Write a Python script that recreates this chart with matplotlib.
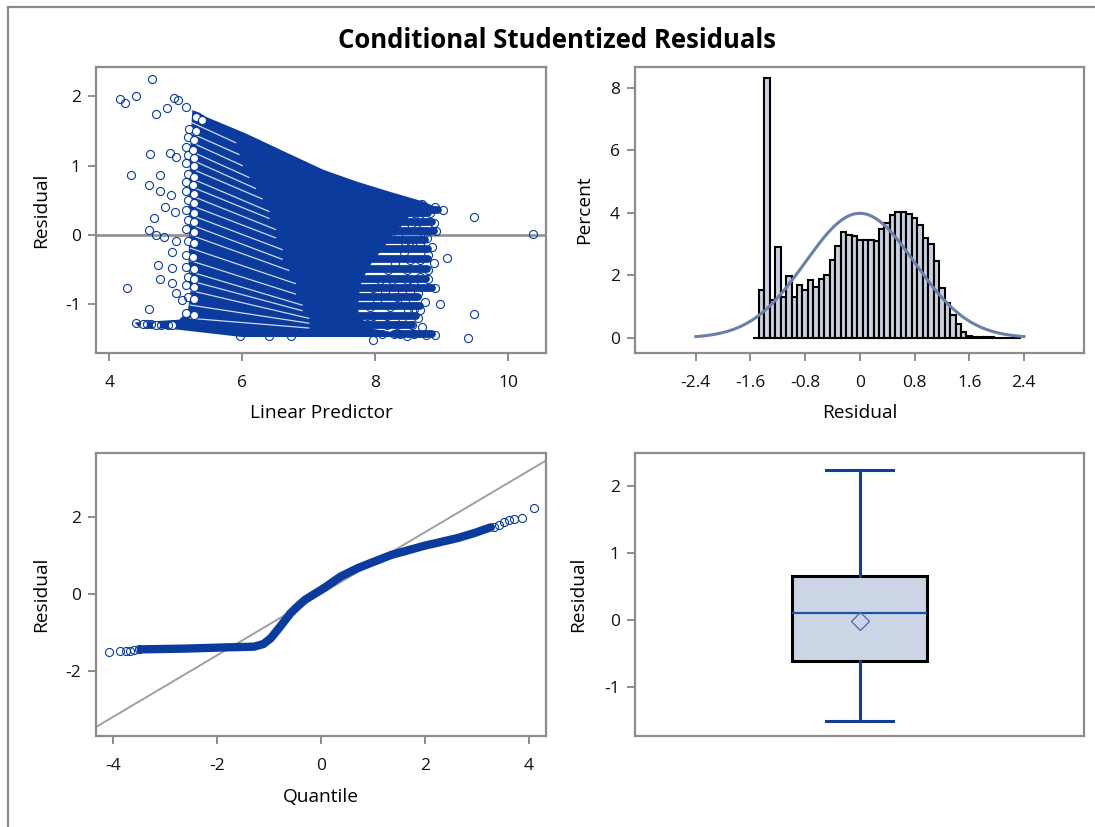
import matplotlib
matplotlib.use("Agg")
import matplotlib.pyplot as plt
import numpy as np
from matplotlib.lines import Line2D

plt.rcParams['font.family'] = ['Open Sans', 'DejaVu Sans']
plt.rcParams['axes.unicode_minus'] = False

NAVY = '#0B3B9C'
GRID = '#8C8C8C'

# ---- top left: residual vs linear predictor ----
# outline of the solid mass of overlapping markers
cloud_x = [5.25, 5.36, 5.46, 6.06, 6.66, 7.22, 7.72, 8.23, 8.73, 8.92,
           8.55, 8.35, 8.15, 7.95, 7.80, 7.75, 7.75, 7.95, 8.40, 8.45,
           6.00, 5.00, 4.45, 4.38, 5.05, 5.18, 5.22, 5.19, 5.20, 5.19, 5.21, 5.23, 5.25]
cloud_y = [1.80, 1.76, 1.70, 1.46, 1.19, 0.94, 0.77, 0.62, 0.48, 0.40,
           0.30, 0.10, -0.15, -0.40, -0.65, -0.90, -1.15, -1.35, -1.42, -1.47,
           -1.47, -1.36, -1.33, -1.26, -1.22, -1.10, -0.85, -0.50, 0.00, 0.50, 1.00, 1.50, 1.80]

# thin white streaks between the bands on the left side of the cloud
gap_x0 = [5.24, 5.22, 5.22, 5.22, 5.22, 5.22, 5.22, 5.22, 5.22, 5.22,
          5.22, 5.22, 5.22, 5.22, 5.22, 5.22, 5.22, 5.22, 5.22, 5.22]
gap_y0 = [1.62, 1.47, 1.34, 1.21, 1.09, 0.96, 0.82, 0.70, 0.57, 0.43,
          0.29, 0.15, 0.00, -0.19, -0.37, -0.53, -0.66, -0.80, -1.01, -1.20]
gap_x1 = [5.90, 5.95, 6.00, 6.10, 6.20, 6.30, 6.40, 6.40, 6.50, 6.50,
          6.60, 6.60, 6.70, 6.80, 6.80, 6.90, 6.90, 7.00, 7.00, 7.00]
gap_y1 = [1.33, 1.16, 1.00, 0.83, 0.67, 0.52, 0.34, 0.24, 0.08, -0.04,
          -0.21, -0.35, -0.51, -0.70, -0.85, -1.01, -1.09, -1.20, -1.27, -1.34]

# rows of overlapping circles on the right fringe of the cloud
row_y = [0.36, 0.31, 0.18, 0.06, -0.07, -0.20, -0.34, -0.49, -0.63, -0.76,
         -0.89, -1.03, -1.16, -1.29, -1.43]
row_x0 = [8.50, 8.40, 8.30, 8.20, 8.10, 8.00, 7.90, 7.80, 7.75, 7.70,
          7.70, 7.70, 7.75, 7.85, 8.30]
row_x1 = [8.95, 8.80, 8.85, 8.88, 8.75, 8.80, 8.80, 8.78, 8.76, 8.85,
          8.65, 8.68, 8.62, 8.55, 8.85]

# open circles at the band heads (left ends of the streaks)
head_x = [5.30, 5.20, 5.18, 5.16, 5.18, 5.16, 5.18, 5.16, 5.16, 5.18, 5.16,
          5.18, 5.16, 5.18, 5.16, 5.16, 5.18, 5.16, 5.18, 5.16,
          5.40, 5.30, 5.28, 5.26, 5.28, 5.27, 5.28, 5.26, 5.27, 5.28, 5.27,
          5.28, 5.27, 5.28, 5.26, 5.27, 5.28, 5.27, 5.28, 5.27, 4.50, 4.70, 4.95]
head_y = [1.70, 1.53, 1.41, 1.27, 1.15, 1.03, 0.88, 0.76, 0.63, 0.50, 0.36,
          0.22, 0.09, -0.08, -0.29, -0.46, -0.60, -0.72, -0.89, -1.13,
          1.66, 1.50, 1.37, 1.23, 1.11, 0.99, 0.84, 0.72, 0.59, 0.46, 0.32,
          0.18, 0.05, -0.11, -0.32, -0.49, -0.63, -0.75, -0.92, -1.15, -1.28, -1.29, -1.30]

# individual circles around the edges of the cloud
pts_x = [4.65, 4.155, 4.24, 4.40, 4.71, 4.87, 4.98, 5.03, 5.15, 4.61, 4.92, 5.01,
         4.33, 4.76, 4.60, 4.76, 4.93, 4.84, 4.99, 4.67, 4.60, 4.70, 4.83, 5.01,
         4.95, 4.73, 4.95, 4.76, 4.95, 4.27, 5.01, 4.60, 4.40, 4.56, 4.63, 4.78,
         4.88, 5.10, 5.96, 6.41, 6.74,
         9.02, 8.90, 8.83, 8.88, 8.92, 8.78, 8.85, 8.68, 8.80, 8.89, 8.68, 8.80,
         8.68, 8.80, 8.90, 8.58, 8.65, 8.75, 8.98, 8.58, 8.68, 8.65, 8.40, 8.38,
         8.58, 8.77, 8.90, 9.08, 8.48, 8.48, 8.53, 8.43, 8.53, 8.43, 8.63, 8.68,
         8.58, 8.78, 8.73, 8.25, 8.33, 8.23, 8.18, 8.33, 8.18, 8.07, 7.97, 8.03,
         7.92, 7.97, 7.87, 8.28, 8.70, 8.62, 8.50, 8.45, 8.35, 8.30, 8.20, 8.15,
         8.45, 8.50, 8.40, 8.55, 8.70, 8.10, 8.48,
         9.48, 10.37, 9.49, 9.39, 7.97]
pts_y = [2.24, 1.96, 1.90, 2.00, 1.75, 1.83, 1.98, 1.94, 1.85, 1.16, 1.18, 1.13,
         0.86, 0.86, 0.72, 0.64, 0.57, 0.40, 0.33, 0.25, 0.07, 0.00, -0.03, -0.08,
         -0.25, -0.43, -0.48, -0.63, -0.69, -0.77, -0.84, -1.06, -1.27, -1.28, -1.28, -1.29,
         -1.30, -0.94, -1.46, -1.46, -1.46,
         0.355, 0.40, 0.31, 0.17, 0.06, -0.05, -0.17, -0.15, -0.29, -0.41, -0.36, -0.51,
         -0.60, -0.63, -0.76, -0.72, -0.84, -0.96, -0.99, -1.07, -1.08, -1.20, -1.20, -1.42,
         -1.43, -1.44, -1.44, -0.33, -0.65, -0.51, -0.36, -0.24, -0.08, 0.12, 0.09, 0.21,
         0.31, 0.38, 0.02, -0.65, -0.89, -1.04, -1.17, -1.30, -1.30, -0.65, -0.77, -0.94,
         -1.04, -1.16, -1.28, -1.42, 0.45, 0.40, 0.45, -0.10, 0.00, -0.40, -0.50, -0.80,
         -0.95, -1.10, -0.80, -1.30, -1.32, -1.42, -1.45,
         0.26, 0.01, -1.14, -1.48, -1.51]

# ---- top right: histogram of residuals ----
bin_width = 0.08
bin_left = -1.56
hist_pct = [0.0, 1.54, 8.31, 1.22, 2.92, 1.30, 1.98, 1.30, 1.70, 1.52, 1.85, 1.62,
            1.90, 2.02, 2.50, 2.95, 3.40, 3.28, 3.25, 3.15, 3.15, 3.15, 3.10, 3.50,
            3.68, 3.94, 4.03, 4.02, 3.96, 3.84, 3.60, 3.20, 3.00, 2.45, 1.60, 1.12,
            0.72, 0.44, 0.18, 0.06, 0.04, 0.03, 0.02, 0.02, 0.01, 0.01, 0.01, 0.0, 0.0]
resid_mean = 0.0
resid_sd = 0.8

# ---- bottom left: Q-Q plot ----
qq_x = [-3.46, -2.60, -1.86, -1.28, -1.10, -0.96, -0.78, -0.58, -0.45, -0.30,
        0.06, 0.38, 0.71, 1.03, 1.35, 1.99, 2.63, 2.95, 3.27]
qq_y = [-1.44, -1.42, -1.39, -1.37, -1.30, -1.15, -0.85, -0.50, -0.33, -0.15,
        0.15, 0.45, 0.67, 0.84, 1.01, 1.25, 1.45, 1.58, 1.73]
qq_tail_x = [-4.07, -3.85, -3.75, -3.67, -3.59, -3.49, 3.33, 3.43, 3.53, 3.62, 3.72, 3.86, 4.09]
qq_tail_y = [-1.51, -1.48, -1.48, -1.48, -1.46, -1.44, 1.73, 1.79, 1.88, 1.92, 1.95, 1.98, 2.22]

# ---- bottom right: box plot ----
box_stats = dict(med=0.10, q1=-0.61, q3=0.65, whislo=-1.51, whishi=2.25,
                 mean=-0.01, fliers=[])

W, H = 1095, 827
fig = plt.figure(figsize=(W / 100, H / 100), dpi=100)


def style(ax):
    for s in ax.spines.values():
        s.set_color(GRID)
        s.set_linewidth(1.6)
    ax.tick_params(direction='out', length=6, width=1.4, color=GRID,
                   labelsize=12.5, labelcolor='#111111')
    ax.tick_params(axis='x', pad=10)
    ax.tick_params(axis='y', pad=5)


def place(l, t, w, h):
    return fig.add_axes([l / W, 1 - (t + h) / H, w / W, h / H])


LAB = dict(fontsize=13.8)

# top left
ax1 = place(96, 67, 450, 286)
style(ax1)
ax1.axhline(0, color='#909090', lw=1.9, zorder=1)
for y, x0, x1 in zip(row_y, row_x0, row_x1):
    ax1.plot([x0, x1], [y, y], color=NAVY, lw=5.6, solid_capstyle='round', zorder=2)
ax1.fill(cloud_x, cloud_y, color=NAVY, lw=0, zorder=2)
for x0, y0, x1, y1 in zip(gap_x0, gap_y0, gap_x1, gap_y1):
    ax1.plot([x0, x1], [y0, y1], color='white', lw=0.9, alpha=0.8, zorder=2.5)
ax1.plot(head_x, head_y, 'o', mfc='white', mec=NAVY, ms=5.8, mew=0.8, zorder=3)
ax1.plot(pts_x, pts_y, 'o', mfc='none', mec=NAVY, ms=5.8, mew=0.8, zorder=3)
ax1.set_xlim(3.80, 10.57)
ax1.set_ylim(-1.70, 2.42)
ax1.set_xticks([4, 6, 8, 10])
ax1.set_yticks([-1, 0, 1, 2])
ax1.set_xlabel('Linear Predictor', labelpad=9, **LAB)
ax1.set_ylabel('Residual', labelpad=11, **LAB)

# top right
ax2 = place(635, 67, 449, 286)
style(ax2)
centers = bin_left + bin_width / 2 + bin_width * np.arange(len(hist_pct))
ax2.bar(centers, hist_pct, width=bin_width, color='#C8D0E0', edgecolor='black',
        linewidth=1.5, zorder=2)
xs = np.linspace(resid_mean - 3 * resid_sd, resid_mean + 3 * resid_sd, 300)
dens = 100 * bin_width * np.exp(-0.5 * ((xs - resid_mean) / resid_sd) ** 2) / (resid_sd * np.sqrt(2 * np.pi))
ax2.plot(xs, dens, color='#6A80A8', lw=2.2, zorder=3)
ax2.set_xlim(-3.29, 3.28)
ax2.set_ylim(-0.48, 8.67)
ticks = [-2.4, -1.6, -0.8, 0, 0.8, 1.6, 2.4]
ax2.set_xticks(ticks)
ax2.set_xticklabels(['-2.4', '-1.6', '-0.8', '0', '0.8', '1.6', '2.4'])
ax2.set_yticks([0, 2, 4, 6, 8])
ax2.set_xlabel('Residual', labelpad=9, **LAB)
ax2.set_ylabel('Percent', labelpad=12, **LAB)

# bottom left
ax3 = place(96, 453, 450, 283)
style(ax3)
ax3.axline((resid_mean, 0), slope=resid_sd, color='#A0A0A0', lw=1.4, zorder=1)
ax3.plot(qq_x, qq_y, color=NAVY, lw=6.0, solid_capstyle='round', zorder=2)
ax3.plot(qq_tail_x, qq_tail_y, 'o', mfc='none', mec=NAVY, ms=5.8, mew=0.8, zorder=3)
ax3.set_xlim(-4.32, 4.33)
ax3.set_ylim(-3.69, 3.66)
ax3.set_xticks([-4, -2, 0, 2, 4])
ax3.set_yticks([-2, 0, 2])
ax3.set_xlabel('Quantile', labelpad=10, **LAB)
ax3.set_ylabel('Residual', labelpad=11, **LAB)

# bottom right
ax4 = place(635, 453, 449, 283)
style(ax4)
ax4.bxp([box_stats], positions=[1], widths=0.6, capwidths=0.3, showmeans=True,
        showfliers=False, patch_artist=True,
        boxprops=dict(facecolor='#CBD5E6', edgecolor='black', linewidth=2.2),
        whiskerprops=dict(color='#123F92', linewidth=2.2),
        capprops=dict(color='#123F92', linewidth=2.2),
        medianprops=dict(color='#1F4FA8', linewidth=1.6),
        meanprops=dict(marker='D', markerfacecolor='none', markeredgecolor='#4A66A8',
                       markersize=9, markeredgewidth=0.9))
ax4.set_xlim(0, 2)
ax4.set_ylim(-1.74, 2.50)
ax4.set_xticks([])
ax4.set_yticks([-1, 0, 1, 2])
ax4.set_ylabel('Residual', labelpad=12, **LAB)

fig.text(556.5 / W, 1 - 41 / H, 'Conditional Studentized Residuals', ha='center',
         va='center', fontsize=18.5, fontweight='bold')

# outer frame (left and top edges)
fig.add_artist(Line2D([8 / W, 8 / W], [0, 1 - 7 / H], color=GRID, lw=1.6))
fig.add_artist(Line2D([8 / W, 1], [1 - 7 / H, 1 - 7 / H], color=GRID, lw=1.6))

fig.savefig('out.png', dpi=100)
